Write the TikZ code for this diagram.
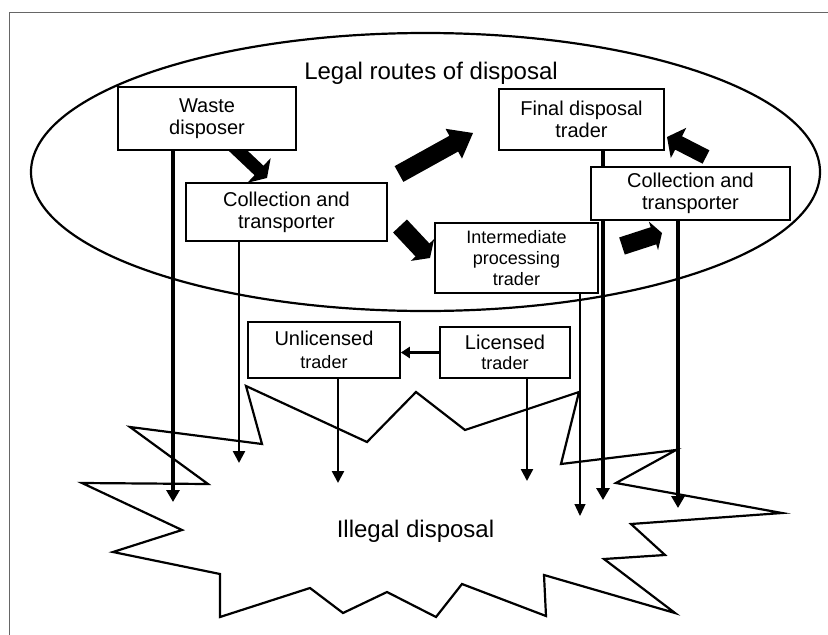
\documentclass[tikz,border=0pt]{standalone}
\usepackage{fontspec}
\setmainfont{Liberation Sans}
\usetikzlibrary{calc,arrows.meta,backgrounds}

% filled block arrow: tail, tip, shaft half width, head half width, head length
\newcommand\blockarrow[5]{%
  \coordinate (ba-base) at ($(#2)!#5!(#1)$);
  \fill ($(#1)!#3!90:(#2)$) -- ($(ba-base)!#3!90:(#2)$) -- ($(ba-base)!#4!90:(#2)$)
    -- (#2) -- ($(ba-base)!#4!-90:(#2)$) -- ($(ba-base)!#3!-90:(#2)$)
    -- ($(#1)!#3!-90:(#2)$) -- cycle;}

\newcommand\boxfont{\fontsize{20}{22}\selectfont}
\newcommand\smallboxfont{\fontsize{18}{21}\selectfont}
\newcommand\headfont{\fontsize{24}{28}\selectfont}

\begin{document}
\begin{tikzpicture}[x=1pt,y=-1pt,
  box/.style={draw, line width=1.7pt, fill=white, align=center, inner sep=0pt},
  thickdrop/.style={line width=3.8pt, -{Triangle[width=13pt,length=12pt]}},
  middrop/.style={line width=2.5pt, -{Triangle[width=12pt,length=12pt]}},
  thindrop/.style={line width=1.3pt, -{Triangle[width=11pt,length=12pt]}},
  outline/.style={line width=2.2pt, line join=miter}]
\useasboundingbox (0,0) rectangle (828,635);

% page frame
\draw[black!60, line width=1pt] (9.5,635) -- (9.5,12.5) -- (828,12.5);

% boxes
\node[box, minimum width=178pt, minimum height=63pt, font=\boxfont] (waste) at (207,118.5) {Waste\\disposer};
\node[box, minimum width=201pt, minimum height=58pt, font=\boxfont] (collL) at (286.5,212) {Collection and\\transporter};
\node[box, minimum width=165pt, minimum height=61pt, font=\boxfont] (final) at (581.5,119.5) {Final disposal\\trader};
\node[box, minimum width=199pt, minimum height=53pt, font=\boxfont] (collR) at (690.5,193.5) {Collection and\\transporter};
\node[box, minimum width=163pt, minimum height=70pt, font=\smallboxfont] (inter) at (516.5,258) {Intermediate\\processing\\trader};
\node[box, minimum width=152pt, minimum height=56pt, font=\boxfont] (unlic) at (324,350) {Unlicensed\\[1pt]{\smallboxfont trader}};
\node[box, minimum width=130pt, minimum height=51pt, font=\boxfont] (lic) at (505,352.5) {Licensed\\[-2pt]{\smallboxfont trader}};

% headings
\node[font=\headfont, anchor=base, inner sep=0pt] (legal) at (431,79) {Legal routes of disposal};
\node[font=\headfont, anchor=base, inner sep=0pt] (illegal) at (415.5,537) {Illegal disposal};

% ends of the drop arrows
\coordinate (wEnd) at (173,502);
\coordinate (cEnd) at (239,463);
\coordinate (uEnd) at (338,483);
\coordinate (lEnd) at (527,481);
\coordinate (iEnd) at (580,516);
\coordinate (fEnd) at (603,500);
\coordinate (rEnd) at (678,508);

% block arrow ends
\coordinate (a1) at (231,144);  \coordinate (a2) at (267,178);
\coordinate (b1) at (399,174);  \coordinate (b2) at (473,133);
\coordinate (c1) at (400,226);  \coordinate (c2) at (430,258);
\coordinate (d1) at (622,246);  \coordinate (d2) at (662,233);
\coordinate (e1) at (706,157);  \coordinate (e2) at (667,137);

\begin{pgfonlayer}{background}
  % legal zone
  \draw[outline] (425.5,172) ellipse [x radius=394.5, y radius=139];
  % illegal zone
  \draw[outline] (246,386) -- (367,442) -- (416,392) -- (465,430) -- (579,392)
    -- (561,464) -- (676,450) -- (616,483) -- (782,513) -- (631,524) -- (665,555)
    -- (604,559) -- (675,613) -- (544,575) -- (546,616) -- (462,584) -- (436,617)
    -- (387,592) -- (343,613) -- (310,588) -- (220,617) -- (220,574) -- (113,552)
    -- (182,530) -- (82,483) -- (208,484) -- (130,427) -- (262,444) -- cycle;
  % routes into illegal disposal
  \draw[thickdrop] (wEnd |- waste.south) -- (wEnd);
  \draw[middrop] (cEnd |- collL.south) -- (cEnd);
  \draw[middrop] (uEnd |- unlic.south) -- (uEnd);
  \draw[middrop] (lEnd |- lic.south) -- (lEnd);
  \draw[thindrop] (iEnd |- inter.south) -- (iEnd);
  \draw[thickdrop] (fEnd |- final.south) -- (fEnd);
  \draw[thickdrop] (rEnd |- collR.south) -- (rEnd);
  % legal flows
  \blockarrow{a1}{a2}{6.5pt}{17pt}{11pt}
  \blockarrow{b1}{b2}{9pt}{17pt}{22pt}
  \blockarrow{c1}{c2}{9.5pt}{16pt}{11pt}
  \blockarrow{d1}{d2}{9pt}{15pt}{9pt}
  \blockarrow{e1}{e2}{7.5pt}{17pt}{13pt}
\end{pgfonlayer}

\draw[line width=3.2pt, -{Triangle[width=11pt,length=9pt]}] (lic.west) -- (lic.west -| unlic.east);
\end{tikzpicture}
\end{document}
